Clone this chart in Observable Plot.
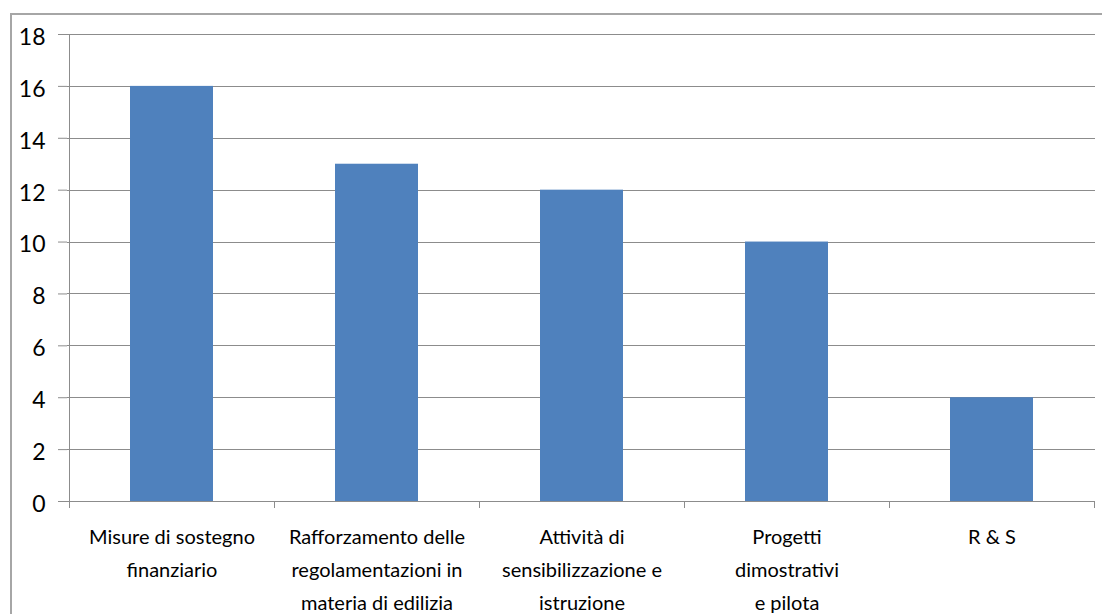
<!DOCTYPE html>
<html>
<head>
<meta charset="utf-8">
<script src="https://cdn.jsdelivr.net/npm/d3@7"></script>
<script src="https://cdn.jsdelivr.net/npm/@observablehq/plot@0.6"></script>
<style>
  html, body { margin: 0; padding: 0; background: #fff; overflow: hidden; }
  #wrap { position: relative; width: 1102px; height: 614px; }
  #frame { position: absolute; left: 10px; top: 13px; width: 1200px; height: 700px; border: 2px solid #a6a6a6; box-sizing: border-box; }
  #chart { position: absolute; left: 0; top: 0; }
</style>
</head>
<body>
<div id="wrap"><div id="frame"></div><div id="chart"></div></div>
<script>
const categories = [
  "Misure di sostegno\nfinanziario",
  "Rafforzamento delle\nregolamentazioni in\nmateria di edilizia",
  "Attività di\nsensibilizzazione e\nistruzione",
  "Progetti\ndimostrativi\ne pilota",
  "R & S"
];
const values = [16, 13, 12, 10, 4];
const yTicks = [0, 2, 4, 6, 8, 10, 12, 14, 16, 18];

const data = categories.map((c, i) => ({category: c, value: values[i]}));

const W = 1102, H = 614;
const mL = 67, mR = 7, mT = 34, mB = 113;
const halfBand = (W - mL - mR) / categories.length / 2;
const font = "Lato, 'Noto Sans', sans-serif";
const gridColor = "#8c8c8c";

const chart = Plot.plot({
  width: W,
  height: H,
  marginLeft: mL,
  marginRight: mR,
  marginTop: mT,
  marginBottom: mB,
  style: {fontFamily: font, background: "transparent", color: "#000"},
  x: {domain: categories, paddingInner: 0.596, paddingOuter: 0.298, label: null},
  y: {domain: [0, 18], label: null},
  marks: [
    Plot.gridY(yTicks, {stroke: gridColor, strokeOpacity: 1, strokeWidth: 1}),
    Plot.axisY(yTicks, {tickSize: 9, tickFormat: () => "", stroke: gridColor, label: null}),
    Plot.axisY(yTicks, {tickSize: 0, tickPadding: 22, fontSize: 23, fill: "#000", dy: 3, label: null}),
    Plot.ruleX([categories[0]], {x: d => d, y1: 0, y2: 18, dx: -halfBand, stroke: gridColor}),
    Plot.ruleX(categories, {x: d => d, y1: 0, y2: 0, insetBottom: -7, dx: -halfBand, stroke: gridColor}),
    Plot.ruleX([categories[categories.length - 1]], {x: d => d, y1: 0, y2: 0, insetBottom: -7, dx: halfBand, stroke: gridColor}),
    Plot.barY(data, {x: "category", y: "value", fill: "#4f81bd"}),
    Plot.axisX({tickSize: 0, tickPadding: 19, fontSize: 20, lineHeight: 1.65, fill: "#000", label: null}),
    Plot.ruleY([0], {stroke: gridColor})
  ]
});
chart.querySelectorAll("line").forEach(l => l.setAttribute("shape-rendering", "crispEdges"));
document.getElementById("chart").appendChild(chart);
</script>
</body>
</html>
